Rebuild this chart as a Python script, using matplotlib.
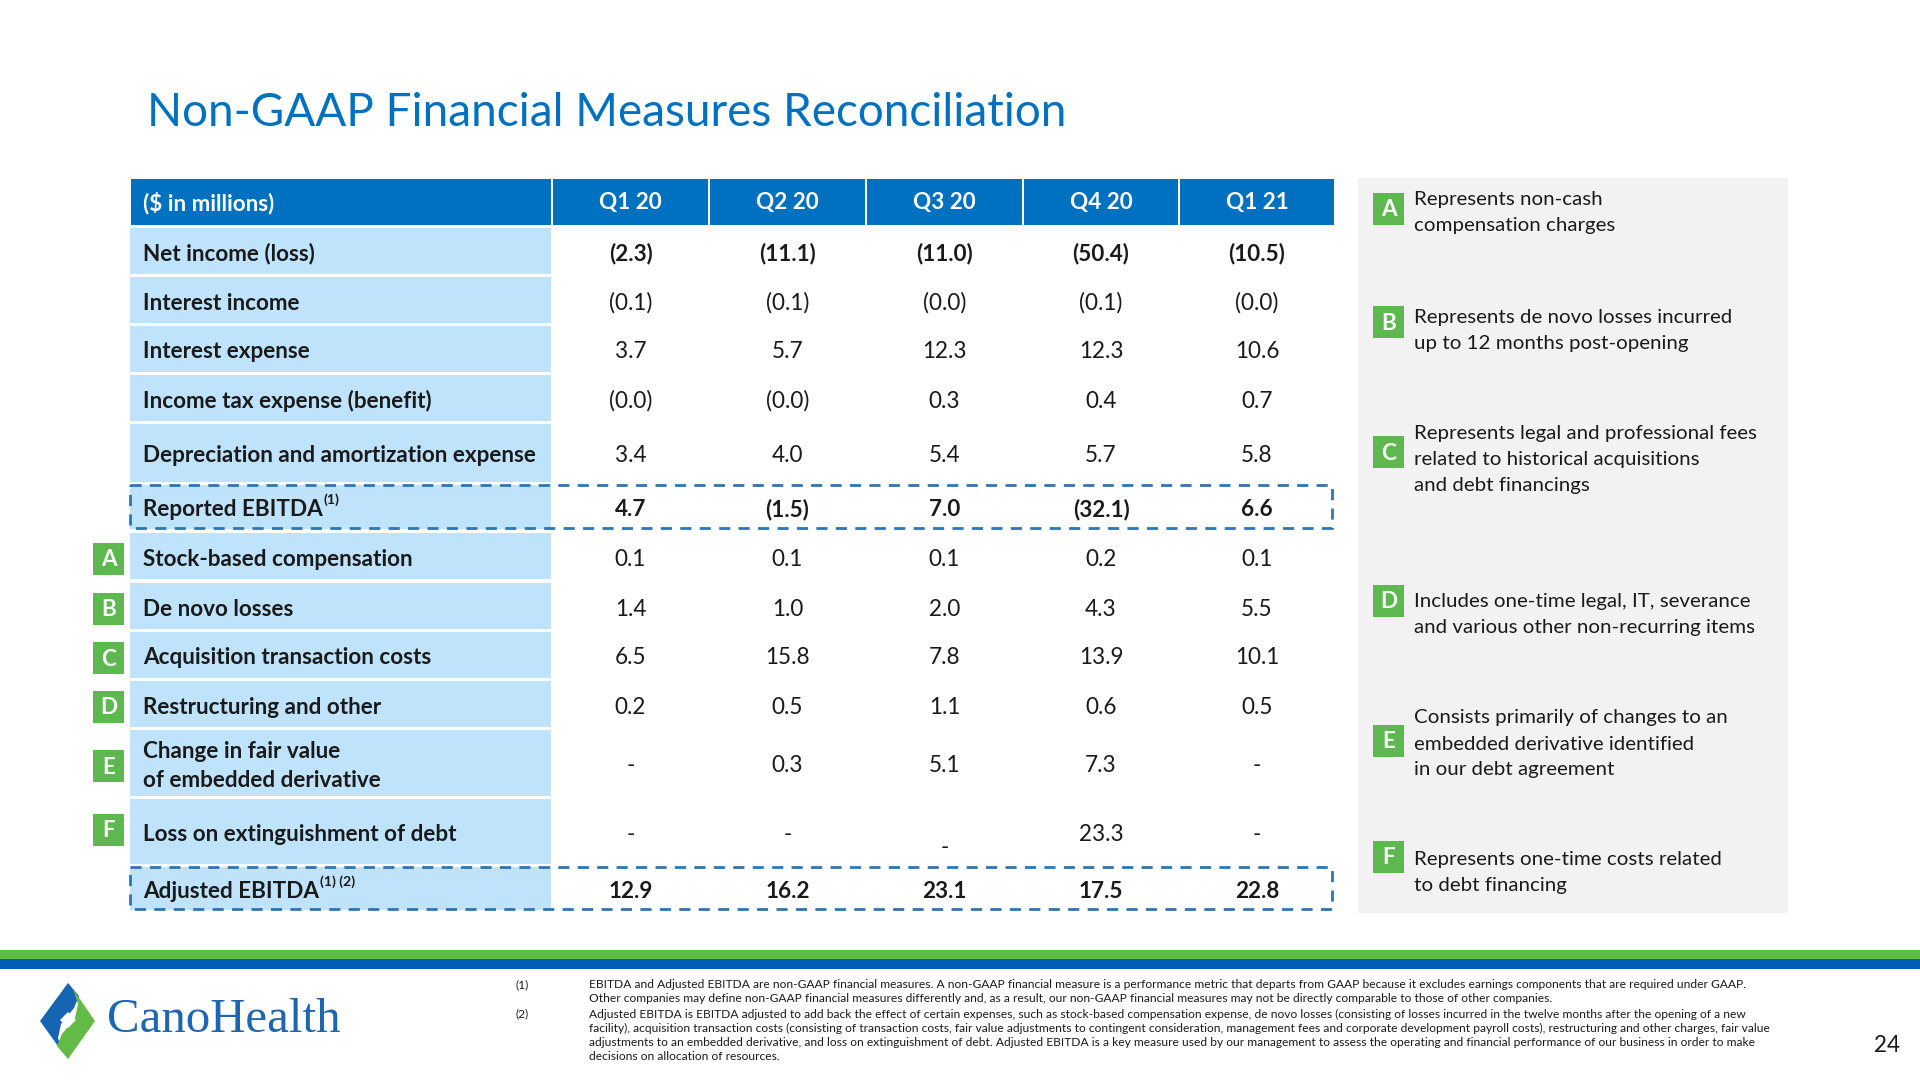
import numpy as np
import matplotlib
matplotlib.use('Agg')
import matplotlib.pyplot as plt
from matplotlib import font_manager
from matplotlib.patches import Rectangle, Polygon

FONT = 'Lato'
try:
    font_manager.findfont('Liberation Sans Narrow', fallback_to_default=False)
    FOOT_FONT = 'Liberation Sans Narrow'
except Exception:
    FOOT_FONT = FONT

# colours
BLUE = '#0070C0'
LIGHT = '#BFE3FB'
GREEN = '#5DB94F'
GREY = '#F2F2F2'
DASH = '#2E75B6'
TEXT = '#1A1A1A'

# table data ($ in millions), nan = "-"
title = 'Non-GAAP Financial Measures Reconciliation'
quarters = ['Q1 20', 'Q2 20', 'Q3 20', 'Q4 20', 'Q1 21']
row_labels = ['Net income (loss)', 'Interest income', 'Interest expense',
              'Income tax expense (benefit)', 'Depreciation and amortization expense',
              'Reported EBITDA', 'Stock-based compensation', 'De novo losses',
              'Acquisition transaction costs', 'Restructuring and other',
              'Change in fair value\nof embedded derivative',
              'Loss on extinguishment of debt', 'Adjusted EBITDA']
row_tags = ['', '', '', '', '', '', 'A', 'B', 'C', 'D', 'E', 'F', '']
row_sup = ['', '', '', '', '', '(1)', '', '', '', '', '', '', '(1) (2)']
bold_rows = [0, 5, 12]
q1_20 = [-2.3, -0.1, 3.7, -0.0, 3.4, 4.7, 0.1, 1.4, 6.5, 0.2, np.nan, np.nan, 12.9]
q2_20 = [-11.1, -0.1, 5.7, -0.0, 4.0, -1.5, 0.1, 1.0, 15.8, 0.5, 0.3, np.nan, 16.2]
q3_20 = [-11.0, -0.0, 12.3, 0.3, 5.4, 7.0, 0.1, 2.0, 7.8, 1.1, 5.1, np.nan, 23.1]
q4_20 = [-50.4, -0.1, 12.3, 0.4, 5.7, -32.1, 0.2, 4.3, 13.9, 0.6, 7.3, 23.3, 17.5]
q1_21 = [-10.5, -0.0, 10.6, 0.7, 5.8, 6.6, 0.1, 5.5, 10.1, 0.5, np.nan, np.nan, 22.8]
columns = [q1_20, q2_20, q3_20, q4_20, q1_21]

note_letters = ['A', 'B', 'C', 'D', 'E', 'F']
notes = ['Represents non-cash\ncompensation charges',
         'Represents de novo losses incurred\nup to 12 months post-opening',
         'Represents legal and professional fees\nrelated to historical acquisitions\nand debt financings',
         'Includes one-time legal, IT, severance\nand various other non-recurring items',
         'Consists primarily of changes to an\nembedded derivative identified\nin our debt agreement',
         'Represents one-time costs related\nto debt financing']

footnote_marks = ['(1)', '(2)']
footnotes = [
    ['EBITDA and Adjusted EBITDA are non-GAAP financial measures. A non-GAAP financial measure is a performance metric that departs from GAAP because it excludes earnings components that are required under GAAP.',
     'Other companies may define non-GAAP financial measures differently and, as a result, our non-GAAP financial measures may not be directly comparable to those of other companies.'],
    ['Adjusted EBITDA is EBITDA adjusted to add back the effect of certain expenses, such as stock-based compensation expense, de novo losses (consisting of losses incurred in the twelve months after the opening of a new',
     'facility), acquisition transaction costs (consisting of transaction costs, fair value adjustments to contingent consideration, management fees and corporate development payroll costs), restructuring and other charges, fair value',
     'adjustments to an embedded derivative, and loss on extinguishment of debt. Adjusted EBITDA is a key measure used by our management to assess the operating and financial performance of our business in order to make',
     'decisions on allocation of resources.'],
]


def fmt(v):
    if np.isnan(v):
        return '-'
    if np.signbit(v):
        return f'({abs(v):.1f})'
    return f'{v:.1f}'


# layout (pixels, figure is 1920x1080)
col_edges = [130, 552, 709, 866, 1023, 1179, 1335]
header_y = (179, 225)
row_bounds = [(228, 274), (277, 323), (326, 372), (375, 421), (424, 482), (485, 529),
              (533, 579), (583, 629), (632, 678), (681, 727), (730, 796), (799, 864), (867, 910)]
DY = 3  # nudge text centre down a little
LABEL_PITCH = 29.5
NOTE_PITCH = 26

fig = plt.figure(figsize=(19.2, 10.8), dpi=100)
ax = fig.add_axes([0, 0, 1, 1])
ax.set_xlim(0, 1920)
ax.set_ylim(1080, 0)
ax.axis('off')
renderer = fig.canvas.get_renderer()


def fitted_size(s, width, weight='normal', family=FONT):
    t = ax.text(0, 0, s, fontsize=20, fontweight=weight, family=family)
    w = t.get_window_extent(renderer).width
    t.remove()
    return 20 * width / w


def lines_at(x, yc, s, pitch, **kw):
    parts = s.split('\n')
    out = []
    for i, p in enumerate(parts):
        y = yc + (i - (len(parts) - 1) / 2) * pitch
        out.append(ax.text(x, y, p, va='center', ha='left', **kw))
    return out


title_fs = fitted_size(title, 920)
label_fs = fitted_size('Depreciation and amortization expense', 394, 'bold')
note_fs = fitted_size('Represents legal and professional fees', 344)
foot_fs = fitted_size(footnotes[1][1], 1182, family=FOOT_FONT)
logo_fs = fitted_size('CanoHealth', 233, family='Liberation Serif')

# title
ax.text(147, 113, title, fontsize=title_fs, color=BLUE, family=FONT, va='center', ha='left')

# header row
for i in range(len(col_edges) - 1):
    x0, x1 = col_edges[i] + 1, col_edges[i + 1] - 1
    ax.add_patch(Rectangle((x0, header_y[0]), x1 - x0, header_y[1] - header_y[0], color=BLUE, lw=0))
hy = sum(header_y) / 2 + 1
ax.text(143, hy, '($ in millions)', color='white', fontsize=label_fs, fontweight='bold',
        family=FONT, va='center', ha='left')
for i, q in enumerate(quarters):
    cx = (col_edges[i + 1] + col_edges[i + 2]) / 2
    ax.text(cx, hy, q, color='white', fontsize=label_fs, fontweight='bold',
            family=FONT, va='center', ha='center')

# body rows
for r, (y0, y1) in enumerate(row_bounds):
    ax.add_patch(Rectangle((col_edges[0], y0), col_edges[1] - 1 - col_edges[0], y1 - y0,
                           color=LIGHT, lw=0))
    cy = (y0 + y1) / 2 + DY
    weight = 'bold' if r in bold_rows else 'normal'
    t = lines_at(143, cy, row_labels[r], LABEL_PITCH, fontsize=label_fs, fontweight='bold',
                 family=FONT, color=TEXT)[-1]
    if row_sup[r]:
        bb = t.get_window_extent(renderer)
        ax.text(bb.x1 + 1, cy - 10, row_sup[r], fontsize=label_fs * 0.62, fontweight='bold',
                family=FONT, color=TEXT, va='center', ha='left')
    for c, col in enumerate(columns):
        cx = (col_edges[c + 1] + col_edges[c + 2]) / 2
        s = fmt(col[r])
        dy = 13 if (r == 11 and c == 2) else 0
        ax.text(cx, cy + dy, s, fontsize=label_fs, fontweight=weight, family=FONT,
                color=TEXT, va='center', ha='center')
    if row_tags[r]:
        ty = (y0 + y1) / 2 + (3 if r != 11 else -2)
        ax.add_patch(Rectangle((93, ty - 16), 31, 32, color=GREEN, lw=0))
        ax.text(108.5, ty + 1, row_tags[r], fontsize=label_fs, fontweight='bold', family=FONT,
                color='white', va='center', ha='center')

# dashed outlines around EBITDA rows
for r in (5, 12):
    y0, y1 = row_bounds[r]
    ax.add_patch(Rectangle((130, y0), 1332 - 130, y1 - y0 - 1, fill=False, ec=DASH,
                           lw=2, ls=(0, (4, 3))))

# right-hand notes panel
ax.add_patch(Rectangle((1358, 178), 1788 - 1358, 913 - 178, color=GREY, lw=0))
badge_y = [209, 322, 452, 601, 741, 857]
text_y = [213, 330, 459, 615, 744, 872]
for letter, note, by, ty in zip(note_letters, notes, badge_y, text_y):
    ax.add_patch(Rectangle((1373, by - 16), 31, 32, color=GREEN, lw=0))
    ax.text(1388.5, by + 1, letter, fontsize=label_fs, fontweight='bold', family=FONT,
            color='white', va='center', ha='center')
    lines_at(1414, ty, note, NOTE_PITCH, fontsize=note_fs, family=FONT, color=TEXT)

# bottom stripes
ax.add_patch(Rectangle((0, 950), 1920, 9, color='#62BB46', lw=0))
ax.add_patch(Rectangle((0, 959), 1920, 10, color='#005EB8', lw=0))

# logo
ax.add_patch(Polygon([(68, 983), (40, 1021), (63, 1053), (58, 1038), (61, 1024),
                      (74, 1008), (79, 996)], closed=True, color='#1565B4', lw=0))
ax.add_patch(Polygon([(68, 1059), (95, 1021), (73, 989), (78, 1004), (75, 1018),
                      (62, 1034), (57, 1046)], closed=True, color='#62BB46', lw=0))
ax.add_patch(Polygon([(68, 1012), (76, 1020), (68, 1028), (60, 1020)], closed=True,
                     color='white', lw=0))
ax.text(107, 1032, 'CanoHealth', fontsize=logo_fs, family='Liberation Serif',
        color='#1F66B0', va='baseline', ha='left')

# footnotes
foot_y = [[985, 999], [1014, 1028, 1043, 1056]]
for mark, lines, ys in zip(footnote_marks, footnotes, foot_y):
    ax.text(516, ys[0], mark, fontsize=foot_fs, family=FOOT_FONT, color=TEXT, va='center')
    for line, y in zip(lines, ys):
        ax.text(589, y, line, fontsize=foot_fs, family=FOOT_FONT, color=TEXT, va='center')

ax.text(1887, 1045, '24', fontsize=note_fs * 1.1, family=FONT, color=TEXT, va='center', ha='center')

fig.savefig('out.png', dpi=100, facecolor='white')
